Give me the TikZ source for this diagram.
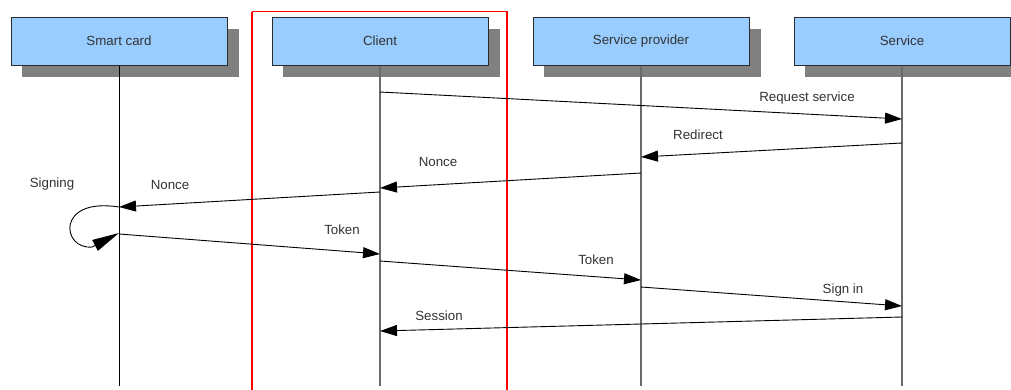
\documentclass[tikz,border=0pt]{standalone}
\usepackage{fontspec}
\setmainfont{Liberation Sans}
\usetikzlibrary{arrows.meta}
\definecolor{boxfill}{HTML}{99CCFF}
\definecolor{boxline}{HTML}{2B2B2B}
\definecolor{shadowgray}{HTML}{808080}
\definecolor{lifegray}{HTML}{6A6A6A}
\definecolor{txt}{HTML}{333333}
\tikzset{
  actor/.style={draw=boxline, line width=1pt, fill=boxfill, minimum width=216pt,
    minimum height=48pt, inner sep=0pt, text=txt, font=\fontsize{13.3}{15}\selectfont},
  lifeline/.style={lifegray, line width=1.2pt},
  msg/.style={black, line width=0.9pt, -{Triangle[length=17pt,width=11pt]}},
  loopline/.style={black, line width=0.9pt},
  loophead/.style={black, line width=0.9pt, -{Triangle[length=27pt,width=12pt]}},
  lbl/.style={text=txt, font=\fontsize{13.3}{15}\selectfont, inner sep=0pt},
  frame/.style={red, line width=1.6pt}
}
\begin{document}
\begin{tikzpicture}[x=1pt, y=-1pt]
  \useasboundingbox (0,0) rectangle (1011,389);
  \clip (0,0) rectangle (1011,389);

  % drop shadows behind the participant boxes
  \foreach \cx in {119,380,641,902}
    \fill[shadowgray] (\cx-97,29) rectangle (\cx+120,77);

  % participants
  \node[actor] (card)    at (119,41) {Smart card};
  \node[actor] (client)  at (380,41) {Client};
  \node[actor] (sp)      at (641,41) {Service provider};
  \node[actor] (service) at (902,41) {Service};

  % lifeline ends
  \coordinate (cardEnd)    at (119,386);
  \coordinate (clientEnd)  at (380,386);
  \coordinate (spEnd)      at (641,386);
  \coordinate (serviceEnd) at (902,386);

  \draw[black, line width=1pt] (card.south) -- (cardEnd);
  \draw[lifeline] (client.south) -- (clientEnd);
  \draw[lifeline] (sp.south) -- (spEnd);
  \draw[lifeline] (service.south) -- (serviceEnd);

  % highlight frame around the client
  \draw[frame] (252,11.5) -- (507,11.5) -- (507,400) (252,11.5) -- (252,400);

  % message anchor points on the lifelines
  \coordinate (m1a) at (380,92);  \coordinate (m1b) at (902,119);
  \coordinate (m2a) at (902,143); \coordinate (m2b) at (641,157);
  \coordinate (m3a) at (641,173); \coordinate (m3b) at (380,188);
  \coordinate (m4a) at (380,192); \coordinate (m4b) at (119,207);
  \coordinate (m5a) at (119,234); \coordinate (m5b) at (380,254);
  \coordinate (m6a) at (380,261); \coordinate (m6b) at (641,280);
  \coordinate (m7a) at (641,287); \coordinate (m7b) at (902,306);
  \coordinate (m8a) at (902,317); \coordinate (m8b) at (380,331);
  \coordinate (loopTurn) at (92,247);
  \coordinate (loopEnd) at (119,233);

  % messages
  \draw[msg] (m1a) -- (m1b);
  \draw[msg] (m2a) -- (m2b);
  \draw[msg] (m3a) -- (m3b);
  \draw[msg] (m4a) -- (m4b);
  % self call on the smart card
  \draw[loopline] (m4b) .. controls (55,197) and (62,250) .. (loopTurn);
  \draw[loophead] (loopTurn) -- (loopEnd);
  \draw[msg] (m5a) -- (m5b);
  \draw[msg] (m6a) -- (m6b);
  \draw[msg] (m7a) -- (m7b);
  \draw[msg] (m8a) -- (m8b);

  % message labels
  \node[lbl] (l1) at (807,98)  {Request service};
  \node[lbl] (l2) at (698,135) {Redirect};
  \node[lbl] (l3) at (438,162) {Nonce};
  \node[lbl] (l4) at (170,185) {Nonce};
  \node[lbl] (l5) at (52,184)  {Signing};
  \node[lbl] (l6) at (342,230) {Token};
  \node[lbl] (l7) at (596,260) {Token};
  \node[lbl] (l8) at (843,290) {Sign in};
  \node[lbl] (l9) at (439,316) {Session};
\end{tikzpicture}
\end{document}
